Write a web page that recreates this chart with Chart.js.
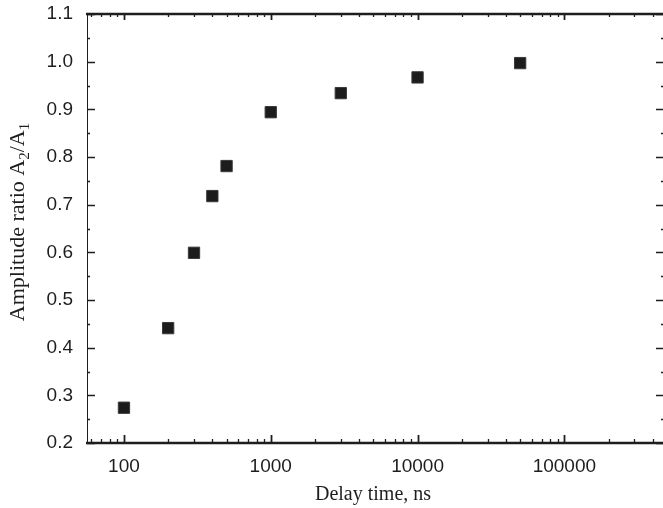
<!DOCTYPE html>
<html>
<head>
<meta charset="utf-8">
<script src="https://cdn.jsdelivr.net/npm/chart.js@4.4.1/dist/chart.umd.min.js"></script>
<style>
  html, body { margin: 0; padding: 0; background: #ffffff; overflow: hidden; }
  #wrap { width: 663px; height: 508px; position: relative; }
</style>
</head>
<body>
<div id="wrap"><canvas id="c" width="663" height="508"></canvas></div>
<script>
// ---- data ----
const delayTimes = [100, 200, 300, 400, 500, 1000, 3000, 10000, 50000];
const amplitudeRatios = [0.274, 0.441, 0.599, 0.718, 0.781, 0.894, 0.934, 0.967, 0.997];
const xMajorTicks = [100, 1000, 10000, 100000];
const yTickLabels = ['0.2','0.3','0.4','0.5','0.6','0.7','0.8','0.9','1.0','1.1'];
const xTitle = 'Delay time, ns';
const yTitleParts = [['Amplitude ratio A', false], ['2', true], ['/A', false], ['1', true]];

// axis limits
const X_MIN = 56, X_MAX = 470000;
const Y_MIN = 0.2, Y_MAX = 1.1;

// minor log ticks built from the major decades
const xAllTicks = [];
for (let d = 10; d <= 100000; d *= 10) {
  for (let k = 1; k <= 9; k++) {
    const v = d * k;
    if (v >= X_MIN && v <= X_MAX) xAllTicks.push({ value: v, major: k === 1 });
  }
}
const yAllTicks = [];
yTickLabels.forEach((lab, i) => {
  const v = parseFloat(lab);
  yAllTicks.push({ value: v, major: true, label: lab });
  if (i < yTickLabels.length - 1) yAllTicks.push({ value: Math.round((v + 0.05) * 100) / 100, major: false, label: '' });
});

const INK = '#1e1e1e';
const serif = '"Liberation Serif", "Times New Roman", serif';
const sans = '"Liberation Sans", Arial, sans-serif';

const framePlugin = {
  id: 'frame',
  afterDraw(chart) {
    const ctx = chart.ctx;
    const a = chart.chartArea;
    const xs = chart.scales.x, ys = chart.scales.y;
    ctx.save();
    ctx.strokeStyle = INK;
    // axis lines
    ctx.lineWidth = 2.5;
    ctx.beginPath();
    ctx.moveTo(a.left - 1, a.bottom); ctx.lineTo(a.right + 2, a.bottom);
    ctx.moveTo(a.left - 1, a.top); ctx.lineTo(a.right + 2, a.top);
    ctx.stroke();
    ctx.lineWidth = 1;
    ctx.beginPath();
    ctx.moveTo(a.left + 0.5, a.top); ctx.lineTo(a.left + 0.5, a.bottom);
    ctx.stroke();
    // x ticks (inward, bottom & top)
    xs.ticks.forEach(t => {
      const px = Math.round(xs.getPixelForValue(t.value)) + 0.5;
      const len = t.major ? 8 : 4;
      ctx.lineWidth = t.major ? 1.8 : 1.3;
      ctx.beginPath();
      ctx.moveTo(px, a.bottom); ctx.lineTo(px, a.bottom - len);
      ctx.moveTo(px, a.top); ctx.lineTo(px, a.top + (t.major ? 6 : 3));
      ctx.stroke();
    });
    // y ticks (inward, left & right)
    ys.ticks.forEach(t => {
      const py = Math.round(ys.getPixelForValue(t.value)) + 0.5;
      const len = t.major ? 8 : 3;
      ctx.lineWidth = t.major ? 1.5 : 1.3;
      ctx.beginPath();
      ctx.moveTo(a.left, py); ctx.lineTo(a.left + len, py);
      ctx.moveTo(a.right, py); ctx.lineTo(a.right - len + 1, py);
      ctx.stroke();
    });
    // x title
    ctx.fillStyle = INK;
    ctx.font = '20px ' + serif;
    ctx.textAlign = 'center';
    ctx.textBaseline = 'alphabetic';
    ctx.fillText(xTitle, (a.left + a.right) / 2 - 2, 500);
    // y title with subscripts
    const big = '22px ' + serif, small = '15px ' + serif;
    let total = 0;
    yTitleParts.forEach(([s, sub]) => { ctx.font = sub ? small : big; total += ctx.measureText(s).width; });
    ctx.translate(24, 222);
    ctx.rotate(-Math.PI / 2);
    ctx.textAlign = 'left';
    let x = -total / 2;
    yTitleParts.forEach(([s, sub]) => {
      ctx.font = sub ? small : big;
      ctx.fillText(s, x, sub ? 5 : 0);
      x += ctx.measureText(s).width;
    });
    ctx.restore();
  }
};

new Chart(document.getElementById('c'), {
  type: 'scatter',
  data: {
    datasets: [{
      data: delayTimes.map((t, i) => ({ x: t, y: amplitudeRatios[i] })),
      pointStyle: 'rect',
      pointRadius: 8,
      pointHoverRadius: 8,
      backgroundColor: '#1c1c1c',
      borderColor: '#3a3a3a',
      borderWidth: 1
    }]
  },
  options: {
    responsive: false,
    animation: false,
    layout: { autoPadding: false, padding: { top: 14, right: 0, left: 0, bottom: 0 } },
    plugins: { legend: { display: false }, tooltip: { enabled: false } },
    scales: {
      x: {
        type: 'logarithmic',
        min: X_MIN, max: X_MAX,
        afterBuildTicks: s => { s.ticks = xAllTicks.map(t => ({ value: t.value, major: t.major })); },
        afterFit: s => { s.height = 65; s.paddingLeft = 0; s.paddingRight = 0; },
        grid: { display: false, drawTicks: false },
        border: { display: false },
        ticks: {
          autoSkip: false, maxRotation: 0, padding: 12,
          color: INK, font: { family: sans, size: 19 },
          callback: (v) => xMajorTicks.includes(v) ? String(v) : ''
        }
      },
      y: {
        min: Y_MIN, max: Y_MAX,
        afterBuildTicks: s => { s.ticks = yAllTicks.map(t => ({ value: t.value, major: t.major })); },
        afterFit: s => { s.width = 87; s.paddingTop = 0; s.paddingBottom = 0; },
        grid: { display: false, drawTicks: false },
        border: { display: false },
        ticks: {
          autoSkip: false, padding: 14,
          color: INK, font: { family: sans, size: 19 },
          callback: (v, i) => yAllTicks[i] ? yAllTicks[i].label : ''
        }
      }
    }
  },
  plugins: [framePlugin]
});
</script>
</body>
</html>
